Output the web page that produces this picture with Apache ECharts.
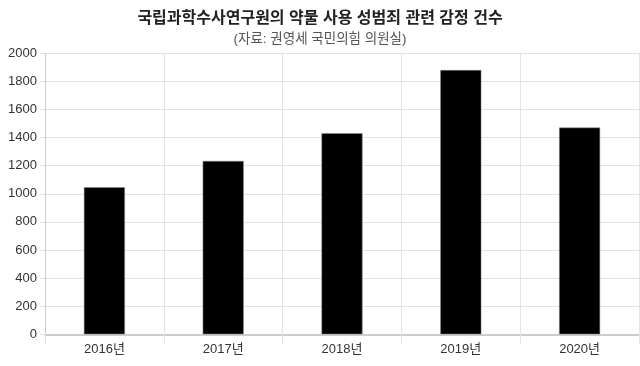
<!DOCTYPE html>
<html><head><meta charset="utf-8">
<script src="https://cdn.jsdelivr.net/npm/echarts@6/dist/echarts.min.js"></script>
<style>html,body{margin:0;padding:0;background:#fff}#c{width:640px;height:366px}</style>
</head><body><div id="c"></div>
<script>
const categories = ['2016년','2017년','2018년','2019년','2020년'];
const values = [1046, 1234, 1431, 1881, 1471];
const yTicks = [0,200,400,600,800,1000,1200,1400,1600,1800,2000];
const titleText = '국립과학수사연구원의 약물 사용 성범죄 관련 감정 건수';
const subtitleText = '(자료: 권영세 국민의힘 의원실)';

const chart = echarts.init(document.getElementById('c'), null, {renderer:'canvas'});
const font = 'Arial, "Liberation Sans", "Noto Sans CJK KR", sans-serif';
chart.setOption({
  animation:false,
  title:{
    text:titleText, subtext:subtitleText, left:'center', top:6, itemGap:6,
    textStyle:{fontFamily:font, fontSize:16, fontWeight:'bold', color:'#222'},
    subtextStyle:{fontFamily:font, fontSize:13.5, color:'#555'}
  },
  grid:{left:45, right:1, top:53.3, bottom:31.7},
  xAxis:{
    type:'category', data:categories, boundaryGap:true,
    axisLine:{show:true, lineStyle:{color:'#ccc', width:2}},
    axisTick:{show:true, length:9, lineStyle:{color:'#e3e3e3'}},
    splitLine:{show:true, lineStyle:{color:'#e3e3e3'}},
    axisLabel:{fontFamily:font, fontSize:13, color:'#333', margin:9}
  },
  yAxis:{
    type:'value', min:yTicks[0], max:yTicks[yTicks.length-1], interval:200,
    axisLine:{show:true, lineStyle:{color:'#ccc'}},
    axisTick:{show:true, length:5, lineStyle:{color:'#e3e3e3'}},
    splitLine:{show:true, lineStyle:{color:'#e3e3e3'}},
    axisLabel:{fontFamily:font, fontSize:13, color:'#333', margin:8, formatter:function(v){return String(v);}}
  },
  series:[{
    type:'bar', data:values, barWidth:41,
    itemStyle:{color:'#000', borderColor:'#888', borderWidth:0.5}
  }]
});
</script></body></html>
